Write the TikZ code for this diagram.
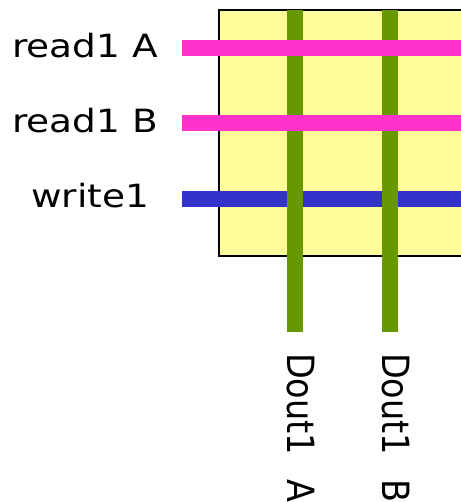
\documentclass[tikz,border=0pt]{standalone}
\usepackage{fontspec}
\setmainfont{DejaVu Sans}
\definecolor{cellfill}{HTML}{FFFD99}
\definecolor{readpink}{HTML}{FF33CC}
\definecolor{writeblue}{HTML}{3333CC}
\definecolor{doutgreen}{HTML}{669900}
\tikzset{
  wire/.style={line width=16pt, line cap=butt},
  readwire/.style={wire, draw=readpink},
  writewire/.style={wire, draw=writeblue},
  outwire/.style={wire, draw=doutgreen},
  portlabel/.style={inner sep=0pt, font=\fontsize{32}{32}\selectfont},
  outlabel/.style={inner sep=0pt, font=\fontsize{33.5}{33.5}\selectfont, rotate=-90, anchor=base west},
}
\newcommand{\hlabel}[1]{\scalebox{1.17}[1]{#1}}
\newcommand{\vlabel}[1]{\scalebox{1}[1.12]{#1}}
\begin{document}
\begin{tikzpicture}[x=1pt, y=-1pt]
  \useasboundingbox (0,0) rectangle (460,502);
  % storage cell
  \draw[fill=cellfill, line width=2pt] (219,10) rectangle (475,256);
  % wire end points
  \coordinate (wA0) at (182,48);  \coordinate (wA1) at (475,48);
  \coordinate (wB0) at (182,123); \coordinate (wB1) at (475,123);
  \coordinate (ww0) at (182,199); \coordinate (ww1) at (475,199);
  \coordinate (oA0) at (295,10);  \coordinate (oA1) at (295,332);
  \coordinate (oB0) at (390,10);  \coordinate (oB1) at (390,332);
  % wires: write below outputs, reads on top
  \draw[writewire] (ww0) -- (ww1);
  \draw[outwire] (oA0) -- (oA1);
  \draw[outwire] (oB0) -- (oB1);
  \draw[readwire] (wA0) -- (wA1);
  \draw[readwire] (wB0) -- (wB1);
  % labels
  \node[portlabel, anchor=base] (lA) at (85,58) {\hlabel{read1 A}};
  \node[portlabel, anchor=base] (lB) at (85,133) {\hlabel{read1 B}};
  \node[portlabel, anchor=base] (lw) at (90,208) {\hlabel{write1}};
  \node[outlabel] (dA) at (287,353) {\vlabel{Dout1\hspace{14pt} A}};
  \node[outlabel] (dB) at (382,353) {\vlabel{Dout1\hspace{14pt} B}};
\end{tikzpicture}
\end{document}
